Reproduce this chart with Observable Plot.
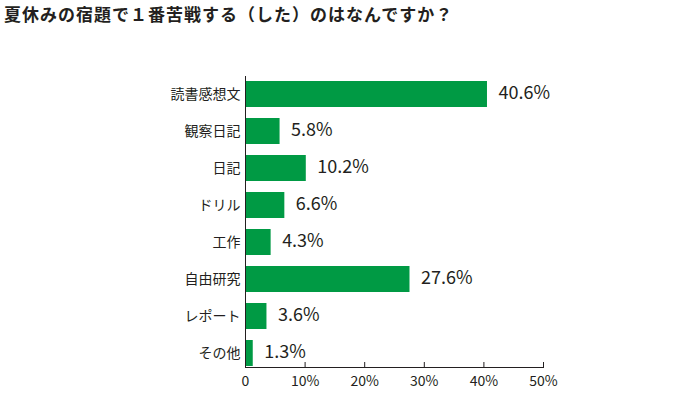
<!DOCTYPE html>
<html><head><meta charset="utf-8">
<script src="https://cdn.jsdelivr.net/npm/d3@7"></script>
<script src="https://cdn.jsdelivr.net/npm/@observablehq/plot@0.6"></script>
<style>
body{margin:0;background:#fff;}
#wrap{position:relative;width:695px;height:393px;}
#title{position:absolute;left:4px;top:4px;font-family:"Noto Sans CJK JP",sans-serif;font-weight:bold;font-size:17px;color:#231f20;letter-spacing:1px;line-height:20px;white-space:nowrap;}
</style></head>
<body><div id="wrap"><div id="title">夏休みの宿題で１番苦戦する（した）のはなんですか？</div><div id="chart"></div></div>
<script>
const categories = ["読書感想文","観察日記","日記","ドリル","工作","自由研究","レポート","その他"];
const values = [40.6,5.8,10.2,6.6,4.3,27.6,3.6,1.3];
const xTicks = [0,10,20,30,40,50];
const data = categories.map((c,i)=>({cat:c,v:values[i]}));
const font = "'Noto Sans CJK JP', 'Noto Sans', sans-serif";
const green = "#009a44";
const ink = "#231f20";
const chart = Plot.plot({
  width:695, height:393,
  marginLeft:245, marginRight:152, marginTop:76, marginBottom:26,
  style:{fontFamily:font, color:ink, background:"transparent"},
  x:{domain:[0,50], ticks:xTicks},
  y:{domain:categories, paddingInner:0.29, paddingOuter:0, insetTop:5},
  marks:[
    Plot.barX(data,{x:"v",y:"cat",fill:green}),
    Plot.text(data,{x:"v",y:"cat",text:d=>d.v.toFixed(1)+"%",textAnchor:"start",dx:11,dy:-1,fontSize:18,fill:ink}),
    Plot.frame({anchor:"left",stroke:ink}),
    Plot.frame({anchor:"bottom",stroke:ink}),
    Plot.axisX({ticks:xTicks,tickSize:-5,text:null,stroke:ink,label:null}),
    Plot.axisX({ticks:xTicks,tickSize:0,tickPadding:9,fontSize:14,fill:ink,label:null,tickFormat:d=>d===0?"0":d+"%"}),
    Plot.axisY({tickSize:0,tickPadding:5,fontSize:14,fill:ink,label:null})
  ]
});
document.getElementById("chart").appendChild(chart);
</script></body></html>
